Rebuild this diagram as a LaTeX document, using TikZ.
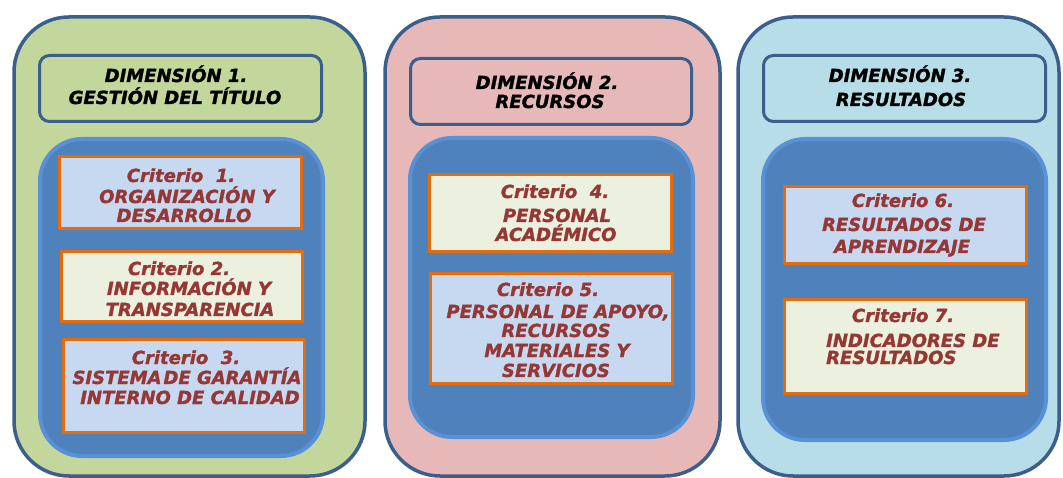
\documentclass[tikz,border=0pt]{standalone}
\usepackage{fontspec}
\setmainfont{DejaVu Sans}
\newfontfamily\heavyfont{DejaVu Sans}[FakeBold=1.5]
\definecolor{panelborder}{HTML}{3B5F8C}
\definecolor{greenfill}{HTML}{C3D69B}
\definecolor{pinkfill}{HTML}{E6B9B8}
\definecolor{cyanfill}{HTML}{B7DDE8}
\definecolor{innerfill}{HTML}{4F81BD}
\definecolor{innerborder}{HTML}{5891D8}
\definecolor{lightblue}{HTML}{C6D9F1}
\definecolor{cream}{HTML}{EBF1DE}
\definecolor{critborder}{HTML}{E46C0A}
\definecolor{crittext}{HTML}{953735}
\tikzset{
  panel/.style={draw=panelborder, line width=3.5pt, rounded corners=55pt, inner sep=0pt},
  titlebox/.style={draw=panelborder, line width=3pt, rounded corners=10pt, inner sep=0pt},
  innerbox/.style={draw=innerborder, fill=innerfill, line width=4pt, rounded corners=42pt, inner sep=0pt},
  critbox/.style={draw=critborder, line width=3pt, inner sep=0pt},
  ttl/.style={anchor=base, inner sep=0pt, text=black, font=\heavyfont\fontsize{18}{20}\selectfont\bfseries\itshape},
  crit/.style={anchor=base, inner sep=0pt, text=crittext, font=\heavyfont\fontsize{18}{20}\selectfont\bfseries\itshape},
}
\begin{document}
\begin{tikzpicture}[x=1pt, y=-1pt]
\useasboundingbox (0,0) rectangle (1063,478);
\begin{scope}
\clip (0,0) rectangle (1063,478);
% panels
\node[panel, fill=greenfill, minimum width=351pt, minimum height=459pt] (p1) at (189.5,246.5) {};
\node[panel, fill=pinkfill, minimum width=335pt, minimum height=459pt] (p2) at (552.5,246.5) {};
\node[panel, fill=cyanfill, minimum width=321pt, minimum height=459pt] (p3) at (898.5,246.5) {};
\end{scope}
% title boxes
\node[titlebox, fill=greenfill, minimum width=282pt, minimum height=66pt] (t1) at (180.5,88.5) {};
\node[titlebox, fill=pinkfill, minimum width=281pt, minimum height=66pt] (t2) at (551,91.5) {};
\node[titlebox, fill=cyanfill, minimum width=282pt, minimum height=66pt] (t3) at (904.5,88.5) {};
% inner blue boxes
\node[innerbox, minimum width=283pt, minimum height=317pt] (i1) at (181.5,297.5) {};
\node[innerbox, minimum width=283pt, minimum height=299pt] (i2) at (551.5,287.5) {};
\node[innerbox, minimum width=283pt, minimum height=301pt] (i3) at (904.5,289.5) {};
% criterion boxes
\node[critbox, fill=lightblue, minimum width=242pt, minimum height=72pt] (c1) at (180.5,192.5) {};
\node[critbox, fill=cream, minimum width=241pt, minimum height=70pt] (c2) at (182,286.5) {};
\node[critbox, fill=lightblue, minimum width=241pt, minimum height=93pt] (c3) at (184,386) {};
\node[critbox, fill=cream, minimum width=242pt, minimum height=77pt] (c4) at (550.5,213) {};
\node[critbox, fill=lightblue, minimum width=242pt, minimum height=110pt] (c5) at (551.5,328.5) {};
\node[critbox, fill=lightblue, minimum width=242pt, minimum height=77pt] (c6) at (905.5,225) {};
\node[critbox, fill=cream, minimum width=242pt, minimum height=94pt] (c7) at (905.5,346.5) {};
% title texts
\node[ttl] (t1a) at (176,82) {DIMENSIÓN 1.};
\node[ttl] (t1b) at (175,104) {GESTIÓN DEL TÍTULO};
\node[ttl] (t2a) at (547,89) {DIMENSIÓN 2.};
\node[ttl] (t2b) at (550,108) {RECURSOS};
\node[ttl] (t3a) at (900,82) {DIMENSIÓN 3.};
\node[ttl] (t3b) at (901,106) {RESULTADOS};
% criterion texts
\node[crit] (c1a) at (181,182) {Criterio\ \ 1.};
\node[crit] (c1b) at (187,203) {ORGANIZACIÓN Y};
\node[crit] (c1c) at (184,222) {DESARROLLO};
\node[crit] (c2a) at (179,275) {Criterio 2.};
\node[crit] (c2b) at (189,295) {INFORMACIÓN Y};
\node[crit] (c2c) at (190,316) {TRANSPARENCIA};
\node[crit] (c3a) at (186,364) {Criterio\ \ 3.};
\node[crit] (c3b) at (187,384) {SISTEMA\hspace{2pt}DE GARANTÍA};
\node[crit] (c3c) at (190,404) {INTERNO DE CALIDAD};
\node[crit] (c4a) at (555,198) {Criterio\ \ 4.};
\node[crit] (c4b) at (557,222) {PERSONAL};
\node[crit] (c4c) at (556,241) {ACADÉMICO};
\node[crit] (c5a) at (548,296) {Criterio 5.};
\node[crit] (c5b) at (558,318) {PERSONAL DE APOYO,};
\node[crit] (c5c) at (556,337) {RECURSOS};
\node[crit] (c5d) at (557,357) {MATERIALES Y};
\node[crit] (c5e) at (556,377) {SERVICIOS};
\node[crit] (c6a) at (903,207) {Criterio 6.};
\node[crit] (c6b) at (904,231) {RESULTADOS DE};
\node[crit] (c6c) at (902,253) {APRENDIZAJE};
\node[crit] (c7a) at (903,322) {Criterio 7.};
\node[crit, anchor=base west] (c7b) at (826,347) {INDICADORES DE};
\node[crit, anchor=base west] (c7c) at (826,364) {RESULTADOS};
\end{tikzpicture}
\end{document}
